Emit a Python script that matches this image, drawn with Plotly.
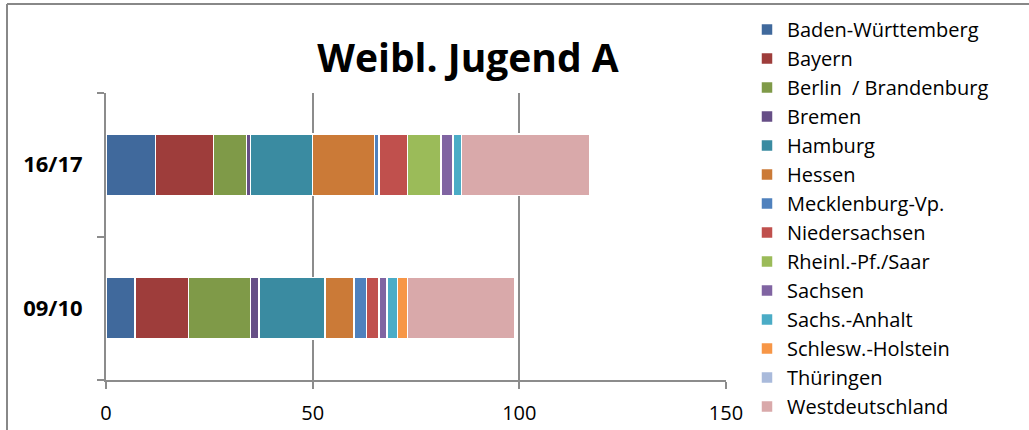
import plotly.graph_objects as go

categories = ["09/10", "16/17"]
regions = ["Baden-Württemberg", "Bayern", "Berlin  / Brandenburg", "Bremen", "Hamburg",
           "Hessen", "Mecklenburg-Vp.", "Niedersachsen", "Rheinl.-Pf./Saar", "Sachsen",
           "Sachs.-Anhalt", "Schlesw.-Holstein", "Thüringen", "Westdeutschland"]
values_0910 = [7, 13, 15, 2, 16, 7, 3, 3, 0, 2, 2.5, 2.5, 0, 26]
values_1617 = [12, 14, 8, 1, 15, 15, 1, 7, 8, 3, 2, 0, 0, 31]
colors = ["#40699C", "#9E3D3B", "#7F9A48", "#664E86", "#3A8BA1", "#CB7A37", "#4F81BD",
          "#C0504D", "#9BBB59", "#8064A2", "#4BACC6", "#F79646", "#A9BADB", "#D9A9AA"]
x_ticks = [0, 50, 100, 150]

FONT = "Open Sans"
fig = go.Figure()
for i, name in enumerate(regions):
    fig.add_trace(go.Bar(
        y=categories, x=[values_0910[i], values_1617[i]], name=name, orientation="h",
        marker=dict(color=colors[i], line=dict(color="white", width=1.5)),
    ))

W, H = 1029, 430
L, R, T, B = 106, W - 726, 93, H - 380
pw = W - L - R
ph = H - T - B

def px_x(p):
    return (p - L) / pw

def px_y(p):
    return (H - B - p) / ph

fig.update_layout(
    width=W, height=H, barmode="stack", bargap=0.57,
    plot_bgcolor="white", paper_bgcolor="white",
    margin=dict(l=L, r=R, t=T, b=B, autoexpand=False),
    title=dict(text="<b>Weibl. Jugend A</b>", x=468 / W, xanchor="center",
               y=1 - 58 / H, yanchor="middle",
               font=dict(family=FONT, size=39, color="black")),
    legend=dict(x=px_x(747), xanchor="left", y=px_y(10), yanchor="top",
                traceorder="normal", font=dict(family=FONT, size=20, color="black"),
                itemwidth=30, tracegroupgap=0, bgcolor="rgba(0,0,0,0)",
                maxheight=430),
    xaxis=dict(range=[0, 150], tickvals=x_ticks, showgrid=True, gridcolor="#8c8c8c",
               gridwidth=2, showline=True, linecolor="#8c8c8c", linewidth=2,
               ticks="outside", ticklen=7, tickcolor="#8c8c8c", tickwidth=2,
               zeroline=False, automargin=False, ticklabelstandoff=7,
               tickfont=dict(family=FONT, size=20, color="black")),
    yaxis=dict(categoryorder="array", categoryarray=categories, showline=True,
               linecolor="#8c8c8c", linewidth=2, ticks="outside", ticklen=7,
               tickcolor="#8c8c8c", tickwidth=2, tickson="boundaries",
               ticklabelstandoff=17, showgrid=False, automargin=False,
               tickfont=dict(family=FONT, size=22, color="black")),
    shapes=[
        dict(type="line", xref="paper", yref="paper", x0=px_x(7), x1=px_x(7),
             y0=px_y(4), y1=px_y(440), line=dict(color="#888888", width=2)),
        dict(type="line", xref="paper", yref="paper", x0=px_x(7), x1=px_x(1040),
             y0=px_y(4), y1=px_y(4), line=dict(color="#888888", width=2)),
    ],
)
fig.update_yaxes(tickprefix="<b>", ticksuffix="</b>")
fig.write_html("out.html", config={"displayModeBar": False},
               post_script="document.body.style.margin='0';")
